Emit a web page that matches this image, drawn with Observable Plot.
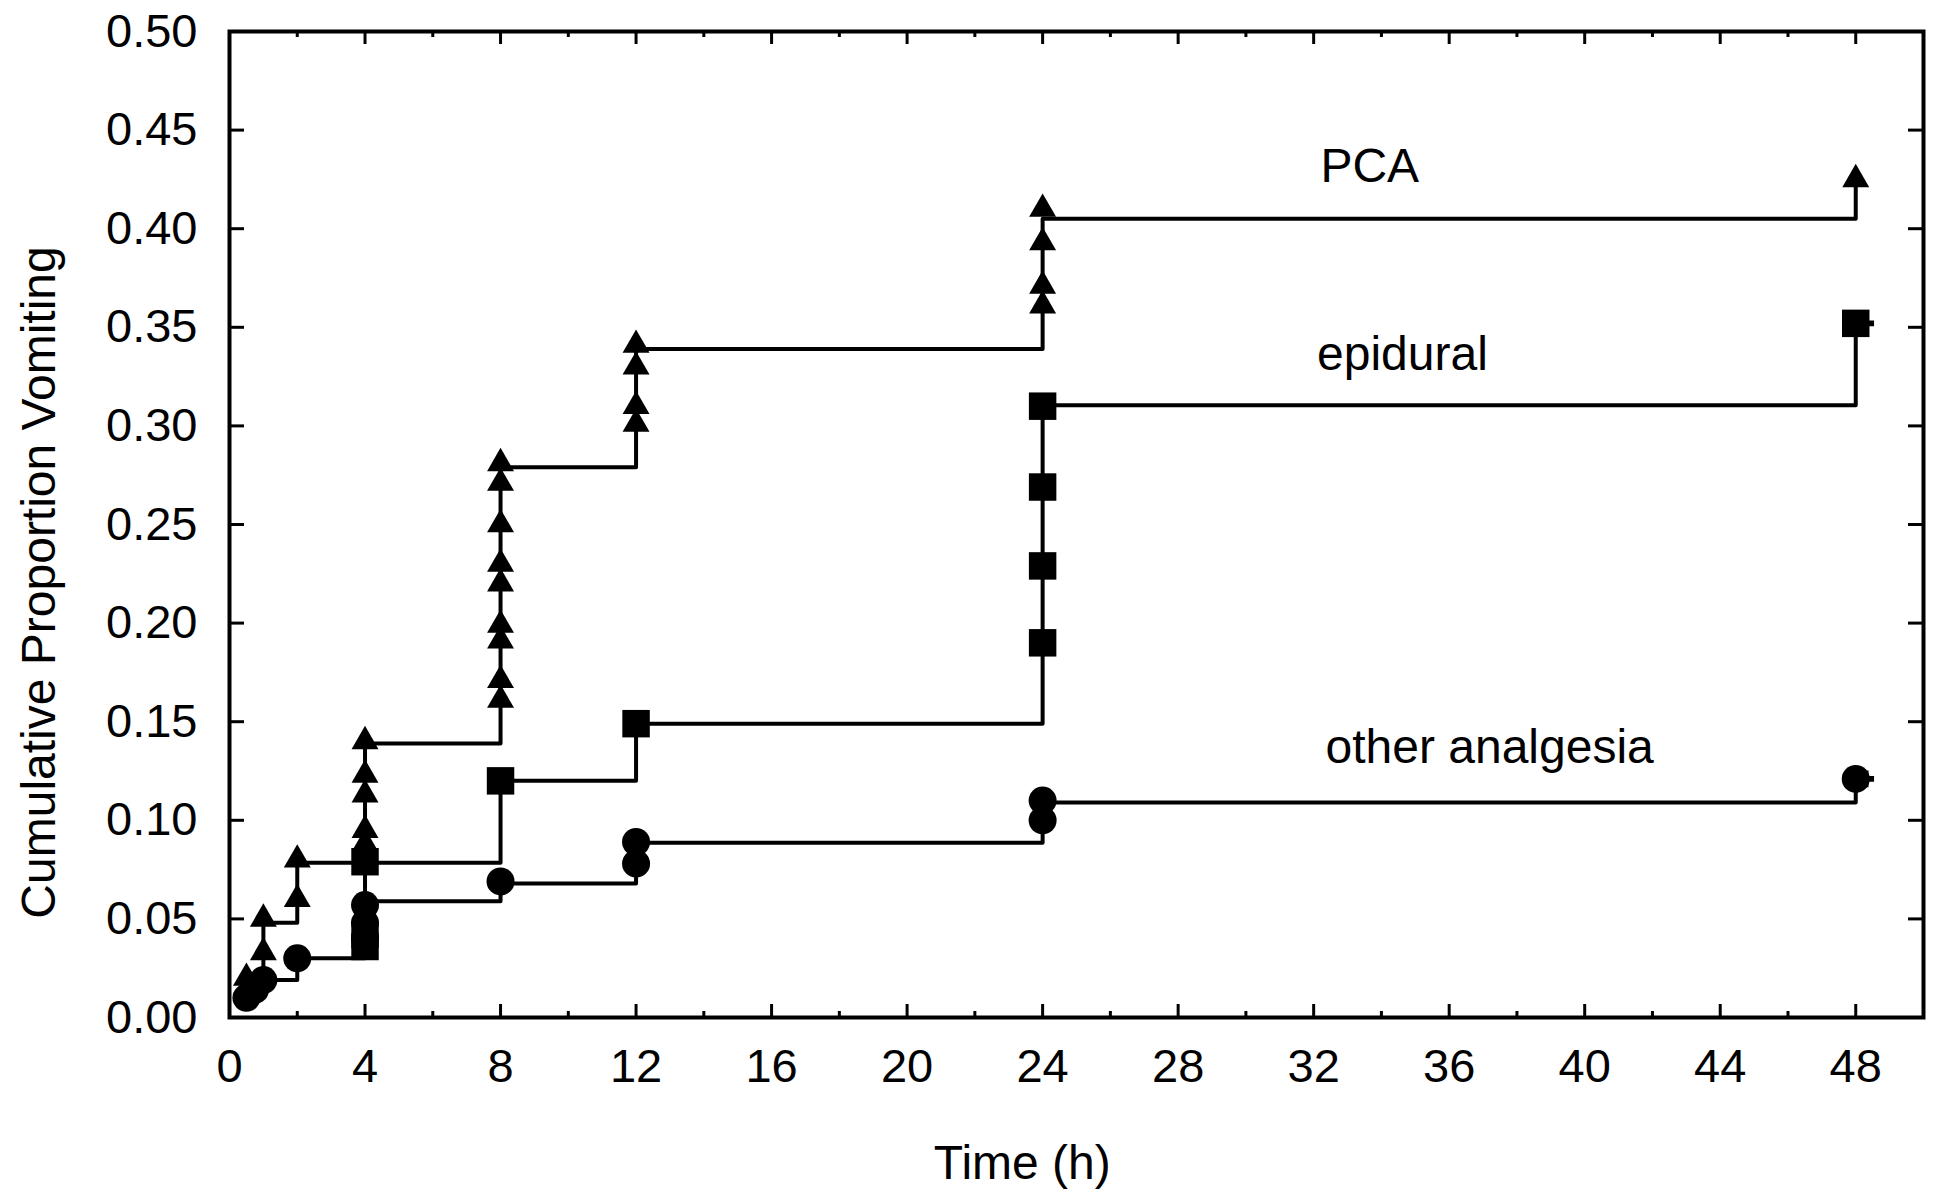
<!DOCTYPE html>
<html>
<head>
<meta charset="utf-8">
<script src="https://cdn.jsdelivr.net/npm/d3@7"></script>
<script src="https://cdn.jsdelivr.net/npm/@observablehq/plot@0.6"></script>
<style>
  html, body { margin: 0; padding: 0; background: #fff; }
  #chart { width: 1933px; height: 1190px; }
</style>
</head>
<body>
<div id="chart"></div>
<script>
// ---- Data ----
const seriesNames = ["PCA", "epidural", "other analgesia"];

// step lines (time in h, cumulative proportion)
const pcaStepTime = [0.5, 1, 2, 4, 8, 12, 24, 48];
const pcaStepValue = [0.02, 0.048, 0.0785, 0.139, 0.279, 0.339, 0.405, 0.425];
const epiStepTime = [4, 4, 8, 12, 24, 48];
const epiStepValue = [0.036, 0.0785, 0.12, 0.149, 0.3105, 0.352];
const othStepTime = [0.5, 0.75, 1, 2, 4, 8, 12, 24, 48];
const othStepValue = [0.01, 0.014, 0.019, 0.03, 0.059, 0.068, 0.0886, 0.109, 0.121];

// event symbols
const pcaPointTime = [0.5, 1, 1, 2, 2, 4, 4, 4, 4, 4, 8, 8, 8, 8, 8, 8, 8, 8, 8, 12, 12, 12, 12, 24, 24, 24, 24, 48];
const pcaPointValue = [0.02, 0.033, 0.05, 0.06, 0.08, 0.088, 0.095, 0.113, 0.123, 0.14,
  0.161, 0.171, 0.191, 0.199, 0.22, 0.23, 0.25, 0.271, 0.281,
  0.301, 0.31, 0.33, 0.341, 0.361, 0.371, 0.393, 0.41, 0.425];
const epiPointTime = [4, 4, 4, 8, 12, 24, 24, 24, 24, 48];
const epiPointValue = [0.036, 0.042, 0.079, 0.12, 0.149, 0.19, 0.229, 0.269, 0.31, 0.352];
const othPointTime = [0.5, 0.75, 1, 2, 4, 4, 4, 8, 12, 12, 24, 24, 48];
const othPointValue = [0.01, 0.014, 0.019, 0.03, 0.04, 0.048, 0.057, 0.069, 0.078, 0.089, 0.10, 0.11, 0.121];

// censor marks at end of follow-up
const censorTime = [48, 48];
const censorValue = [0.352, 0.121];

// series label positions
const labelTime = [32.2, 32.1, 32.35];
const labelValue = [0.4313, 0.336, 0.137];

// ticks
const xMajorTicks = [0, 4, 8, 12, 16, 20, 24, 28, 32, 36, 40, 44, 48];
const xMinorTicks = [2, 6, 10, 14, 18, 22, 26, 30, 34, 38, 42, 46, 50];
const yTicks = [0, 0.05, 0.10, 0.15, 0.20, 0.25, 0.30, 0.35, 0.40, 0.45, 0.50];

const xTitle = "Time (h)";
const yTitle = "Cumulative Proportion Vomiting";

// ---- Build tables ----
const zip = (ts, vs) => ts.map((t, i) => ({t, v: vs[i]}));
const pcaStep = zip(pcaStepTime, pcaStepValue);
const epiStep = zip(epiStepTime, epiStepValue);
const othStep = zip(othStepTime, othStepValue);
const pcaPts = zip(pcaPointTime, pcaPointValue);
const epiPts = zip(epiPointTime, epiPointValue);
const othPts = zip(othPointTime, othPointValue);
const censor = zip(censorTime, censorValue);
const labels = seriesNames.map((name, i) => ({name, t: labelTime[i], v: labelValue[i]}));

// ---- Layout ----
const W = 1933, H = 1190;
const mL = 229, mR = 10, mT = 31, mB = 173;
const innerH = H - mT - mB;
const innerW = W - mL - mR;
const font = "'Liberation Sans', Arial, Helvetica, sans-serif";

const chart = Plot.plot({
  width: W,
  height: H,
  marginLeft: mL,
  marginRight: mR,
  marginTop: mT,
  marginBottom: mB,
  x: {domain: [0, 50]},
  y: {domain: [0, 0.5]},
  style: {fontFamily: font, fontSize: "47px", background: "white", color: "black", overflow: "visible"},
  marks: [
    // inward ticks
    Plot.ruleX(xMajorTicks, {insetTop: innerH - 13, strokeWidth: 3, stroke: "black"}),
    Plot.ruleX(xMajorTicks, {insetBottom: innerH - 13, strokeWidth: 3, stroke: "black"}),
    Plot.ruleX(xMinorTicks, {insetTop: innerH - 6, strokeWidth: 3, stroke: "black"}),
    Plot.ruleX(xMinorTicks, {insetBottom: innerH - 6, strokeWidth: 3, stroke: "black"}),
    Plot.ruleY(yTicks, {insetRight: innerW - 15, strokeWidth: 3, stroke: "black"}),
    Plot.ruleY(yTicks, {insetLeft: innerW - 15, strokeWidth: 3, stroke: "black"}),
    // tick labels
    Plot.axisX(xMajorTicks, {anchor: "bottom", tickSize: 0, tickPadding: 31, label: null, fontSize: 47}),
    Plot.axisY(yTicks, {anchor: "left", tickSize: 0, tickPadding: 32, label: null, fontSize: 47, tickFormat: d3.format(".2f")}),
    // step lines
    Plot.line(pcaStep, {x: "t", y: "v", curve: "step-after", stroke: "black", strokeWidth: 4}),
    Plot.line(epiStep, {x: "t", y: "v", curve: "step-after", stroke: "black", strokeWidth: 4}),
    Plot.line(othStep, {x: "t", y: "v", curve: "step-after", stroke: "black", strokeWidth: 4}),
    // symbols
    Plot.dot(censor, {x: "t", y: "v", symbol: "cross", r: 7, fill: "black", dx: 10}),
    Plot.dot(othPts, {x: "t", y: "v", symbol: "circle", r: 14, fill: "black"}),
    Plot.dot(epiPts, {x: "t", y: "v", symbol: "square", r: 15.5, fill: "black"}),
    Plot.dot(pcaPts, {x: "t", y: "v", symbol: "triangle", r: 10, fill: "black"}),
    // series labels
    Plot.text(labels, {x: "t", y: "v", text: "name", textAnchor: "start", lineAnchor: "middle", fontSize: 48, fill: "black"}),
    // axis titles
    Plot.text([xTitle], {x: 23.4, frameAnchor: "bottom", textAnchor: "middle", lineAnchor: "middle", dy: 146, text: d => d, fontSize: 48, fill: "black"}),
    Plot.text([yTitle], {y: 0.2206, frameAnchor: "left", textAnchor: "middle", lineAnchor: "middle", dx: -190, rotate: -90, text: d => d, fontSize: 48, fill: "black"}),
    // frame
    Plot.frame({stroke: "black", strokeWidth: 4})
  ]
});
document.getElementById("chart").appendChild(chart);
</script>
</body>
</html>
